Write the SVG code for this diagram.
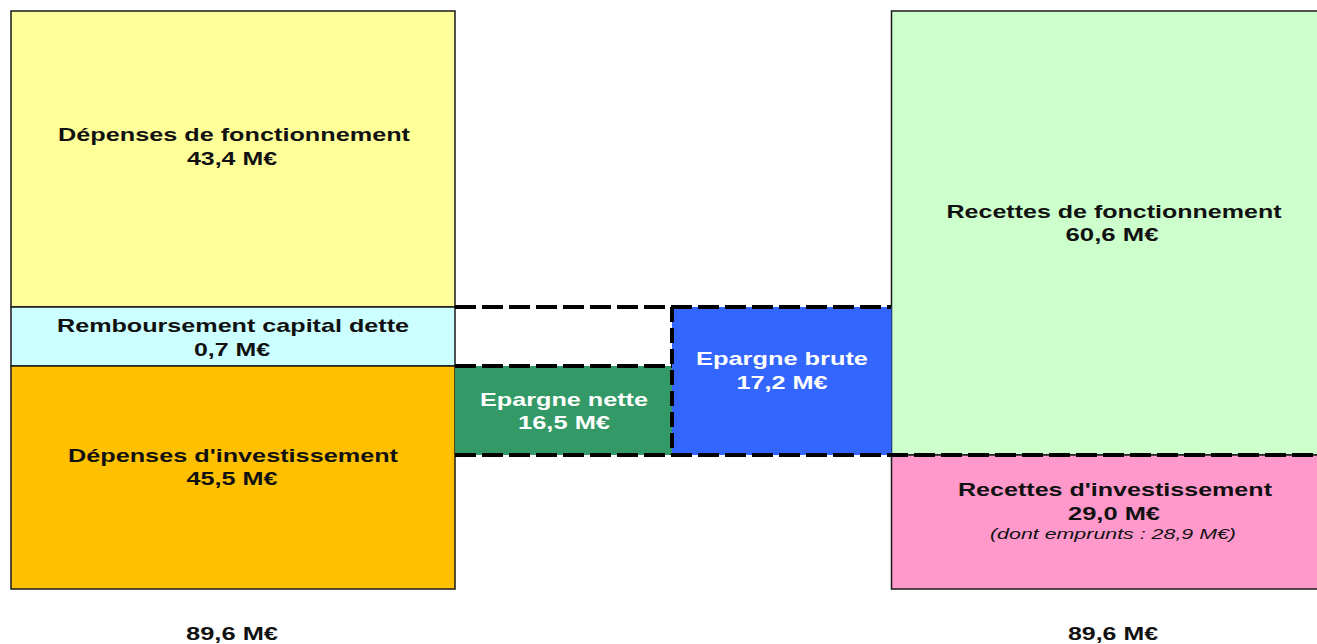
<svg xmlns="http://www.w3.org/2000/svg" width="1317" height="644" viewBox="0 0 1317 644">
<style>
.box{stroke:#1a1a1a;stroke-width:1.5}
.t{font-family:"Liberation Sans",Arial,sans-serif;font-weight:bold;font-size:19px;fill:#111;text-anchor:middle}
.w{fill:#fff}
.it{font-family:"Liberation Sans",Arial,sans-serif;font-style:italic;font-size:15.5px;fill:#111;text-anchor:middle}
.dash{stroke:#000;stroke-width:4;fill:none;stroke-dasharray:21 6}
.vdash{stroke:#000;stroke-width:4;fill:none;stroke-dasharray:15 6}
</style>
<rect width="1317" height="644" fill="#fff"/>
<g id="depenses-fonctionnement">
<rect class="box" x="11" y="11" width="444" height="296" fill="#FFFF99"/>
<text class="t" x="234" y="141" textLength="352" lengthAdjust="spacingAndGlyphs">Dépenses de fonctionnement</text>
<text class="t" x="232" y="165" textLength="90" lengthAdjust="spacingAndGlyphs">43,4 M€</text>
</g>
<g id="remboursement">
<rect class="box" x="11" y="307" width="444" height="59" fill="#CCFFFF"/>
<text class="t" x="233" y="332" textLength="352" lengthAdjust="spacingAndGlyphs">Remboursement capital dette</text>
<text class="t" x="232" y="356" textLength="76" lengthAdjust="spacingAndGlyphs">0,7 M€</text>
</g>
<g id="depenses-investissement">
<rect class="box" x="11" y="366" width="444" height="223" fill="#FFC000"/>
<text class="t" x="233" y="462" textLength="330" lengthAdjust="spacingAndGlyphs">Dépenses d'investissement</text>
<text class="t" x="232" y="485" textLength="91" lengthAdjust="spacingAndGlyphs">45,5 M€</text>
</g>
<g id="recettes-fonctionnement">
<rect class="box" x="891.5" y="11" width="430" height="444" fill="#CCFFCC"/>
<text class="t" x="1114" y="218" textLength="335" lengthAdjust="spacingAndGlyphs">Recettes de fonctionnement</text>
<text class="t" x="1112" y="241" textLength="93" lengthAdjust="spacingAndGlyphs">60,6 M€</text>
</g>
<g id="recettes-investissement">
<rect class="box" x="891.5" y="455" width="430" height="134" fill="#FF99CC"/>
<text class="t" x="1115" y="496" textLength="314" lengthAdjust="spacingAndGlyphs">Recettes d'investissement</text>
<text class="t" x="1114" y="520" textLength="92" lengthAdjust="spacingAndGlyphs">29,0 M€</text>
<text class="it" x="1113" y="539" textLength="246" lengthAdjust="spacingAndGlyphs">(dont emprunts : 28,9 M€)</text>
</g>
<g id="epargne-nette">
<rect x="455" y="366" width="217" height="89" fill="#339966"/>
<text class="t w" x="564" y="406" textLength="168" lengthAdjust="spacingAndGlyphs">Epargne nette</text>
<text class="t w" x="564" y="429" textLength="92" lengthAdjust="spacingAndGlyphs">16,5 M€</text>
</g>
<g id="epargne-brute">
<rect x="672" y="307" width="219.5" height="148" fill="#3366FF"/>
<text class="t w" x="782" y="365" textLength="172" lengthAdjust="spacingAndGlyphs">Epargne brute</text>
<text class="t w" x="782" y="389" textLength="91" lengthAdjust="spacingAndGlyphs">17,2 M€</text>
</g>
<g id="total-depenses">
<text class="t" x="232" y="640" textLength="92" lengthAdjust="spacingAndGlyphs">89,6 M€</text>
</g>
<g id="total-recettes">
<text class="t" x="1113" y="640" textLength="90" lengthAdjust="spacingAndGlyphs">89,6 M€</text>
</g>
<g id="connectors">
<line class="dash" x1="455" y1="307" x2="891" y2="307"/>
<line class="dash" x1="455" y1="366" x2="672" y2="366"/>
<line class="dash" x1="455" y1="455" x2="1317" y2="455"/>
<line class="vdash" x1="672" y1="307" x2="672" y2="455"/>
</g>
</svg>
